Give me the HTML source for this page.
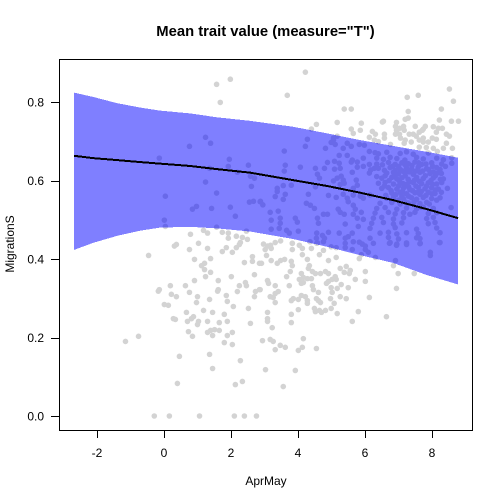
<!DOCTYPE html>
<html>
<head>
<meta charset="utf-8">
<title>Mean trait value</title>
<style>
html,body{margin:0;padding:0;background:#fff;width:504px;height:504px;overflow:hidden}
svg{display:block}
text{font-family:"Liberation Sans",Arial,sans-serif;fill:#000}
</style>
</head>
<body>
<svg id="chart" width="504" height="504" viewBox="0 0 504 504" xmlns="http://www.w3.org/2000/svg" shape-rendering="crispEdges">
  <rect x="0" y="0" width="504" height="504" fill="#fff"/>
  <g id="points"></g>
  <path id="band" fill="rgba(0,0,255,0.5)" stroke="none"></path>
  <path id="fit" fill="none" stroke="#000" stroke-width="2" shape-rendering="crispEdges"></path>
  <rect x="59.5" y="59.5" width="413" height="371" fill="none" stroke="#000" stroke-width="1"/>
  <g id="x-axis"></g>
  <g id="y-axis"></g>
  <text x="265.5" y="36" text-anchor="middle" font-size="14.8" font-weight="bold" shape-rendering="auto">Mean trait value (measure="T")</text>
  <text x="266" y="485" text-anchor="middle" font-size="12">AprMay</text>
  <text x="0" y="0" transform="translate(14,244) rotate(-90)" text-anchor="middle" font-size="12">MigrationS</text>
</svg>
<script>
const xTicks = [-2, 0, 2, 4, 6, 8];
const yTicks = [0.0, 0.2, 0.4, 0.6, 0.8];
const bandX = [-2.69, -2.12, -1.40, -0.72, -0.12, 0.78, 1.58, 2.57, 3.85, 4.87, 5.85, 6.84, 7.85, 8.78];
const bandUpper = [.824, .813, .797, .786, .778, .771, .761, .752, .737, .720, .703, .688, .673, .658];
const bandLower = [.423, .441, .459, .472, .480, .482, .478, .470, .451, .431, .410, .390, .359, .335];
const fitY = [.663, .657, .652, .647, .643, .637, .629, .620, .601, .586, .569, .550, .527, .504];
const observations = [
[-.29,0],[.16,0],[1.06,0],[2.10,0],[2.40,0],[2.76,0],
[-1.15,.19],[-.76,.203],[-.46,.409],[-.17,.318],[-.14,.322],[.01,.284],[.13,.282],[.19,.332],[.22,.31],[.37,.304],[.28,.248],[.34,.246],[.46,.152],[.40,.083],
[.64,.332],[.76,.315],[1.0,.304],[.97,.289],[.91,.345],[.91,.399],[.76,.424],[.31,.433],[.37,.437],[1.03,.44],[1.30,.427],[1.39,.401],[1.12,.383],[1.21,.389],[1.21,.373],[1.39,.366],[1.24,.355],
[1.62,.345],[1.6,.318],[1.62,.322],[1.36,.297],[1.86,.307],[1.89,.292],[2.07,.279],[2.19,.317],[2.25,.332],[2.43,.34],[2.46,.332],[2.01,.355],[2.40,.391],[2.64,.406],[2.64,.394],[2.70,.36],[2.04,.417],[1.74,.419],[1.86,.429],[2.16,.429],[2.25,.437],[2.28,.442],
[2.85,.389],[2.73,.317],[2.85,.322],[2.70,.304],[2.52,.274],[2.58,.236],[1.18,.269],[1.45,.264],[1.80,.259],[.67,.264],[.82,.248],[.88,.253],[.70,.241],[1.03,.241],[1.0,.233],[1.30,.241],[1.65,.238],[1.89,.241],
[.73,.215],[.85,.203],[1.30,.213],[1.39,.218],[1.51,.22],[1.65,.218],[1.45,.205],[1.89,.205],[2.04,.213],[1.80,.187],[2.04,.182],[1.36,.157],[2.28,.141],[1.45,.121],[2.34,.088],[2.13,.08],
[2.97,.438],[3.09,.433],[3.18,.435],[3.02,.424],[3.20,.427],[3.32,.442],[3.48,.446],[3.83,.44],[3.83,.424],[4.04,.435],[4.13,.427],[4.13,.411],[4.40,.427],[4.28,.399],[4.64,.411],[4.76,.422],[5.14,.404],[4.91,.396],
[3.06,.409],[2.91,.389],[3.20,.396],[3.38,.389],[3.48,.396],[3.60,.399],[3.80,.394],[3.83,.383],[3.77,.368],[3.66,.355],[4.34,.383],[4.31,.376],[4.43,.368],[4.52,.363],[4.67,.363],[4.82,.368],[4.91,.363],
[4.10,.363],[4.16,.353],[4.04,.348],[4.28,.350],[4.40,.350],[4.16,.34],[4.10,.338],[4.43,.332],[4.46,.322],[4.61,.315],[5.11,.355],[5.02,.348],[4.91,.343],[4.85,.338],[5.14,.348],
[5.26,.376],[5.44,.381],[5.38,.366],[5.53,.363],[5.56,.371],[5.29,.335],[5.17,.325],[4.99,.327],[5.02,.315],[5.50,.327],[5.71,.348],[6.01,.368],[6.01,.343],[5.83,.401],
[3.74,.332],[3.32,.332],[3.09,.345],[3.12,.338],[2.87,.322],[3.41,.317],[3.32,.312],[3.17,.304],[3.26,.302],[3.32,.289],[3.80,.294],[3.86,.299],[4.01,.297],[4.10,.307],[4.22,.304],[4.28,.294],[4.28,.287],
[4.55,.299],[4.61,.294],[4.67,.289],[4.97,.299],[5.08,.287],[5.44,.299],[5.26,.304],[6.13,.302],[6.94,.325],[6.99,.363],[6.85,.383],[7.47,.363],
[4.01,.271],[3.80,.259],[3.80,.238],[4.49,.274],[4.52,.266],[4.64,.269],[4.70,.264],[4.82,.269],[4.99,.274],[5.17,.261],[3.09,.264],[3.09,.248],[3.09,.241],[3.23,.225],[5.80,.266],[5.62,.241],[6.64,.253],
[2.94,.192],[3.17,.195],[3.26,.19],[3.32,.169],[3.47,.18],[3.62,.175],[4.16,.197],[4.13,.175],[4.01,.167],[4.55,.172],[3.03,.118],[3.92,.116],[3.56,.075],
[1.57,.845],[1.98,.858],[1.68,.799],[.79,.463],[1.18,.473],[1.30,.466],[1.74,.468],[1.92,.466],[1.92,.453],[2.16,.458],[2.34,.455],[2.49,.45],
[-.14,.657],[.76,.687],[1.24,.71],[1.39,.695],[1.36,.631],[1.95,.654],[1.92,.636],[2.52,.639],[2.19,.621],[2.58,.611],[2.70,.606],[2.61,.585],[1.24,.596],[1.57,.568],[.04,.56],[.97,.534],[.85,.527],[1.42,.529],[1.98,.532],[2.13,.509],[.01,.499],[.04,.483],[1.57,.481],[2.46,.471],[2.55,.545],[2.67,.547],[2.88,.547],
[4.22,.876],[3.68,.817],[8.52,.833],[8.64,.802],[7.26,.812],[7.59,.817],[5.38,.782],[5.59,.782],[7.29,.776],[8.28,.782],[7.20,.756],[7.29,.759],[6.55,.751],[6.52,.749],[8.22,.754],[8.58,.751],[8.79,.751],[5.17,.748],[5.89,.746],[4.55,.743],[4.40,.731],[5.59,.731],[5.65,.72],[5.86,.728],[6.22,.725],[6.31,.718],[6.13,.71],[6.58,.718],[6.58,.708],[6.28,.703],[6.40,.699],[6.76,.692],
[6.94,.748],[6.91,.738],[6.94,.728],[6.91,.718],[7.03,.733],[7.15,.738],[7.17,.728],[7.03,.718],[7.06,.708],[7.20,.703],[7.32,.718],[7.50,.738],[7.44,.718],[7.62,.723],[7.71,.728],[7.80,.738],[7.74,.731],[7.53,.713],[7.38,.698],[7.17,.695],[7.62,.703],[7.74,.698],[7.89,.698],[8.01,.708],[8.13,.705],[8.04,.737],[8.19,.733],[8.31,.733],[8.13,.723],[8.43,.718],[8.52,.713],[8.43,.695],[8.34,.682],[8.61,.682],[7.62,.685],[7.83,.684],[8.04,.682],[8.16,.674],[7.74,.708],
[4.28,.705],[4.22,.687],[3.59,.675],[4.82,.682],[5.06,.708],[4.99,.697],[5.11,.692],[5.17,.713],[5.06,.703],[5.47,.695],[5.35,.682],[5.59,.687],[5.47,.664],[5.23,.664],[5.83,.692],[5.98,.69],[6.13,.674],[5.95,.657],[5.62,.652],[5.59,.647],
[4.88,.646],[5.09,.649],[5.23,.644],[5.09,.629],[5.26,.631],[4.52,.631],[4.79,.631],[4.58,.616],[4.64,.606],[5.77,.647],[5.77,.634],[5.62,.621],[5.95,.636],[6.13,.641],[4.07,.634],[3.62,.639],[3.59,.624],
[3.56,.587],[3.80,.588],[3.38,.58],[3.38,.572],[3.62,.565],[3.32,.559],[3.56,.552],[4.31,.565],[4.52,.584],[5.06,.599],[5.17,.606],[5.29,.611],[5.35,.601],[5.26,.59],[5.38,.593],[5.74,.601],[5.77,.588],
[4.91,.562],[5.14,.557],[5.35,.565],[5.47,.555],[5.65,.563],[5.86,.56],[6.13,.619],[6.17,.627],[6.28,.631],[6.35,.61],
[6.30,.671],[6.40,.668],[6.65,.672],[7.05,.669],[7.24,.673],[7.44,.667],[7.89,.670],
[6.35,.657],[6.55,.654],[6.75,.659],[6.95,.656],[7.19,.652],[7.54,.659],[7.74,.655],[8.14,.657],[8.34,.653],[8.59,.658],
[6.35,.642],[6.70,.646],[6.90,.641],[7.10,.645],[7.29,.643],[7.49,.647],[7.69,.641],[7.99,.645],[8.29,.642],[8.59,.644],
[6.40,.631],[6.75,.633],[7.05,.628],[7.24,.632],[7.39,.629],[7.59,.634],[7.84,.630],[8.14,.633],[8.24,.628],
[6.65,.619],[6.85,.621],[7.0,.617],[7.19,.620],[7.44,.616],[7.64,.621],[7.94,.618],[8.19,.620],
[6.50,.606],[6.80,.608],[6.95,.604],[7.10,.607],[7.29,.603],[7.54,.608],[7.74,.605],[8.04,.607],[8.34,.604],
[6.40,.593],[6.60,.595],[6.85,.591],[7.05,.594],[7.24,.590],[7.44,.595],[7.69,.592],[7.89,.594],[8.14,.591],[8.29,.595],
[6.50,.580],[6.70,.582],[6.95,.578],[7.15,.581],[7.34,.577],[7.59,.582],[7.79,.579],[7.99,.581],[8.19,.578],[8.46,.580],
[6.80,.568],[7.05,.570],[7.24,.566],[7.49,.569],[7.64,.565],[7.89,.570],[8.09,.567],
[6.65,.555],[6.85,.557],[7.15,.553],[7.39,.556],[7.54,.552],[7.74,.557],[7.99,.554],[8.24,.556],
[6.45,.542],[6.80,.544],[7.05,.540],[7.29,.543],[7.64,.541],[7.84,.544],
[6.35,.529],[6.60,.531],[6.95,.527],[7.24,.530],[7.54,.528],[7.74,.532],[8.04,.529],[8.57,.531],
[6.30,.517],[6.70,.519],[6.90,.515],[7.15,.518],[7.34,.514],[7.49,.519],[7.89,.516],[8.14,.518],
[6.25,.504],[6.50,.506],[6.85,.502],[7.15,.505],[7.84,.503],[8.04,.506],
[6.20,.491],[6.55,.493],[6.85,.489],[7.10,.492],[7.89,.490],[8.09,.493],
[6.15,.478],[6.90,.480],[7.54,.476],[8.14,.479],
[6.45,.466],[6.70,.468],[6.95,.464],[7.24,.467],[7.59,.465],[8.24,.467],
[6.15,.453],[6.70,.455],[7.0,.451],[7.54,.454],[7.64,.452],
[6.25,.44],[6.75,.442],[6.95,.438],[7.24,.441],[7.64,.439],[8.24,.442],
[3.17,.519],[3.41,.522],[3.20,.499],[3.47,.504],[3.47,.491],[3.20,.476],[3.44,.478],[3.92,.504],[3.98,.494],[3.66,.473],[3.74,.466],[4.01,.471],[3.83,.44],
[4.25,.542],[4.37,.537],[4.49,.529],[4.58,.504],[4.61,.491],[4.76,.514],[4.88,.514],[4.56,.466],[4.73,.46],[4.79,.453],[4.91,.468],[5.23,.466],[4.55,.453],[4.36,.444],[4.56,.44],
[5.20,.527],[5.26,.519],[5.41,.489],[5.38,.514],[5.65,.537],[5.71,.527],[5.65,.514],[5.89,.519],[5.77,.504],[5.95,.501],[5.80,.483],[5.62,.466],[5.41,.453],[5.50,.457],[5.83,.443],
[2.87,.546],[2.95,.538],[5.65,.58],[5.95,.555],[5.50,.546],[6.15,.563],
[4.58,.441],[4.76,.444],[4.99,.431],[5.14,.429],[5.41,.44],[5.41,.429],[5.65,.444],[5.62,.424],[5.92,.438],[6.01,.433],[6.01,.424],[6.10,.417],[5.89,.411],[6.31,.404],[6.73,.44],[6.94,.435],[6.91,.396],[7.24,.437],[7.65,.44],[8.22,.442],[7.95,.417],[7.95,.409],
[6.60,.612],[6.72,.600],[6.88,.612],[7.02,.600],[7.14,.592],[7.20,.612],[7.33,.597],[7.48,.601],[7.62,.598],[7.80,.612],[7.97,.600],[8.10,.612],[8.25,.603],
[6.58,.626],[6.90,.626],[7.12,.624],[7.32,.622],[7.52,.624],[7.72,.624],[7.90,.628],[8.04,.622],[8.28,.618],
[6.58,.586],[6.78,.574],[7.00,.586],[7.12,.572],[7.30,.584],[7.42,.574],[7.52,.586],[7.68,.572],[7.84,.586],[8.02,.590],[8.10,.576],[8.28,.570],
[6.62,.562],[6.92,.564],[7.10,.560],[7.30,.560],[7.46,.544],[7.58,.570],[7.82,.562],[8.00,.566],[8.14,.550],
[6.52,.640],[6.82,.636],[7.00,.636],[7.20,.640],[7.40,.638],[7.60,.645],[7.82,.642],[8.02,.636],[8.40,.636],
[7.00,.550],[7.20,.545],[7.68,.532],[7.92,.540]
];

const NS = 'http://www.w3.org/2000/svg';
function xScale(v) { return 164 + 33.5 * v; }
function yScale(v) { return 416 - 392.5 * v; }

const pointsGroup = document.getElementById('points');
observations.forEach(function (obs) {
  const c = document.createElementNS(NS, 'circle');
  
  
  c.setAttribute('cx', xScale(obs[0]));
  c.setAttribute('cy', yScale(obs[1]));
  c.setAttribute('r', 2.8);
  c.setAttribute('fill', '#d3d3d3');
  c.setAttribute('shape-rendering', 'auto');
  pointsGroup.appendChild(c);
});

let bandPath = '';
bandX.forEach(function (x, i) {
  bandPath += (i ? 'L' : 'M') + xScale(x) + ' ' + yScale(bandUpper[i]);
});
for (let i = bandX.length - 1; i >= 0; i--) {
  bandPath += 'L' + xScale(bandX[i]) + ' ' + yScale(bandLower[i]);
}
document.getElementById('band').setAttribute('d', bandPath + 'Z');

let fitPath = '';
bandX.forEach(function (x, i) {
  fitPath += (i ? 'L' : 'M') + xScale(x) + ' ' + yScale(fitY[i]);
});
document.getElementById('fit').setAttribute('d', fitPath);

const xAxisGroup = document.getElementById('x-axis');
xTicks.forEach(function (t) {
  const px = Math.round(xScale(t)) + 0.5;
  const line = document.createElementNS(NS, 'line');
  
  
  line.setAttribute('x1', px);
  line.setAttribute('x2', px);
  line.setAttribute('y1', 430);
  line.setAttribute('y2', 438);
  line.setAttribute('stroke', '#000');
  xAxisGroup.appendChild(line);
  const label = document.createElementNS(NS, 'text');
  
  
  label.setAttribute('x', xScale(t));
  label.setAttribute('y', 457);
  label.setAttribute('text-anchor', 'middle');
  label.setAttribute('font-size', '12');
  label.textContent = String(t);
  xAxisGroup.appendChild(label);
});

const yAxisGroup = document.getElementById('y-axis');
yTicks.forEach(function (t) {
  const py = Math.round(yScale(t)) + 0.5;
  const line = document.createElementNS(NS, 'line');
  
  
  line.setAttribute('x1', 51);
  line.setAttribute('x2', 59);
  line.setAttribute('y1', py);
  line.setAttribute('y2', py);
  line.setAttribute('stroke', '#000');
  yAxisGroup.appendChild(line);
  const label = document.createElementNS(NS, 'text');
  
  
  label.setAttribute('x', 44);
  label.setAttribute('y', yScale(t) + 4.5);
  label.setAttribute('text-anchor', 'end');
  label.setAttribute('font-size', '12');
  label.textContent = t.toFixed(1);
  yAxisGroup.appendChild(label);
});
</script>
</body>
</html>
